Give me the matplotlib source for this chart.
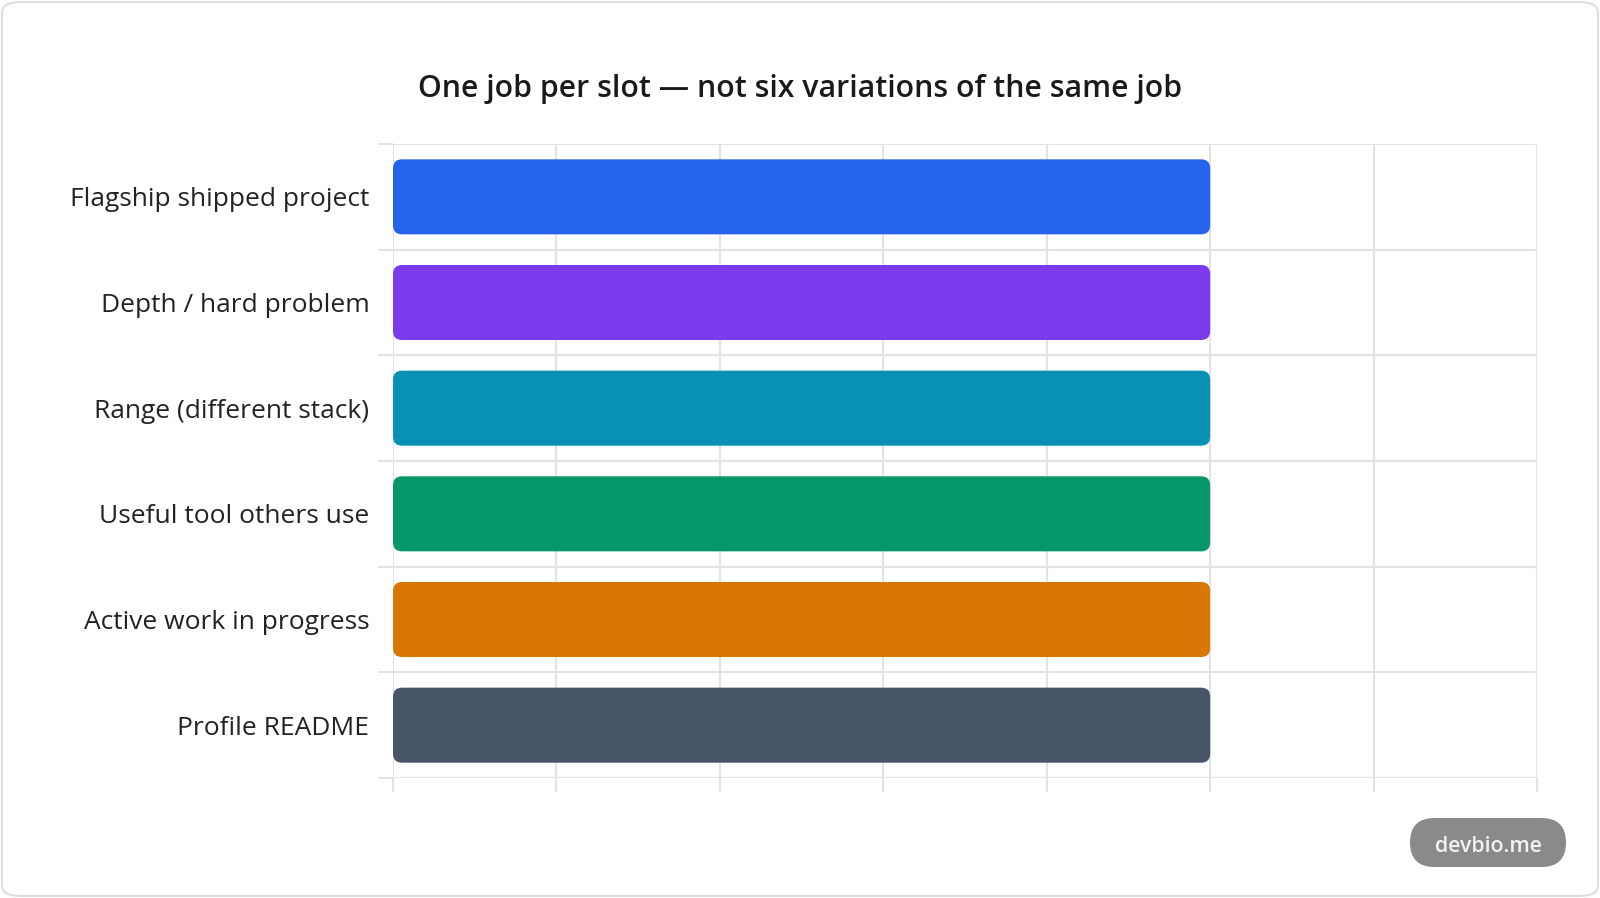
import matplotlib
matplotlib.use("Agg")
import matplotlib.pyplot as plt
from matplotlib.patches import FancyBboxPatch

plt.rcParams['font.family'] = ['Open Sans', 'DejaVu Sans']

categories = ["Flagship shipped project", "Depth / hard problem", "Range (different stack)",
              "Useful tool others use", "Active work in progress", "Profile README"]
values = [5, 5, 5, 5, 5, 5]
colors = ["#2563eb", "#7c3aed", "#0891b2", "#059669", "#d97706", "#475569"]
title = "One job per slot — not six variations of the same job"
xmax = 7

W, H = 1600, 898
fig = plt.figure(figsize=(W / 100, H / 100), dpi=100)
fig.patch.set_facecolor("white")

# figure border
border = FancyBboxPatch((2 / W, 2 / H), 1 - 4 / W, 1 - 4 / H,
                        boxstyle="round,pad=0,rounding_size=0.012",
                        transform=fig.transFigure, facecolor="none",
                        edgecolor="#dedede", linewidth=1.5, zorder=10)
fig.add_artist(border)

ax = fig.add_axes([393 / W, 120 / H, (1537 - 393) / W, (778 - 144) / H])
ax.set_facecolor("none")
ypos = list(range(len(categories)))
bars = ax.barh(ypos, values, height=0.71, color=colors)

ax.set_xlim(0, xmax)
ax.set_ylim(len(categories) - 0.5, -0.5)

# rounded bars
px_x = (1537 - 393) / xmax
px_y = (778 - 144) / len(categories)
aspect = px_x / px_y
for b, c in zip(bars, colors):
    x0, y0, w, h = b.get_x(), b.get_y(), b.get_width(), b.get_height()
    b.remove()
    p = FancyBboxPatch((x0, y0), w, h,
                       boxstyle="round,pad=0,rounding_size=%f" % (9 / px_x),
                       mutation_aspect=aspect, facecolor=c, edgecolor="none", zorder=3)
    ax.add_patch(p)

ax.set_yticks(ypos)
ax.set_yticklabels(categories)
ax.set_yticks([i - 0.5 for i in range(len(categories) + 1)], minor=True)
ax.set_xticks(range(0, xmax + 1))
ax.set_xticklabels([])
ax.tick_params(axis='y', which='major', length=0, pad=17, labelsize=19, labelcolor="#222222")
ax.tick_params(axis='y', which='minor', length=11, width=1.5, color="#e3e3e3")
ax.tick_params(axis='x', which='major', length=10.3, width=1.5, color="#e3e3e3")
ax.grid(True, which='minor', axis='y', color="#e3e3e3", linewidth=1.5, zorder=0)
ax.grid(True, which='major', axis='x', color="#e3e3e3", linewidth=1.5, zorder=0)
ax.set_axisbelow(True)
for s in ax.spines.values():
    s.set_visible(False)

fig.text(800 / W, 1 - 89 / H, title, ha="center", va="center",
         fontsize=21.8, fontweight="semibold", color="#1a1a1a")

# badge
badge = FancyBboxPatch((1410 / W, 1 - 867 / H), 156 / W, 49 / H,
                       boxstyle="round,pad=0,rounding_size=0.0153",
                       mutation_aspect=W / H,
                       transform=fig.transFigure, facecolor="#8a8a8a",
                       edgecolor="none", zorder=5)
fig.add_artist(badge)
fig.text(1488 / W, 1 - 846 / H, "devbio.me", ha="center", va="center",
         fontsize=15.3, fontweight="semibold", color="#f2f2f2", zorder=6)

fig.savefig("out.png", dpi=100, facecolor="white")
